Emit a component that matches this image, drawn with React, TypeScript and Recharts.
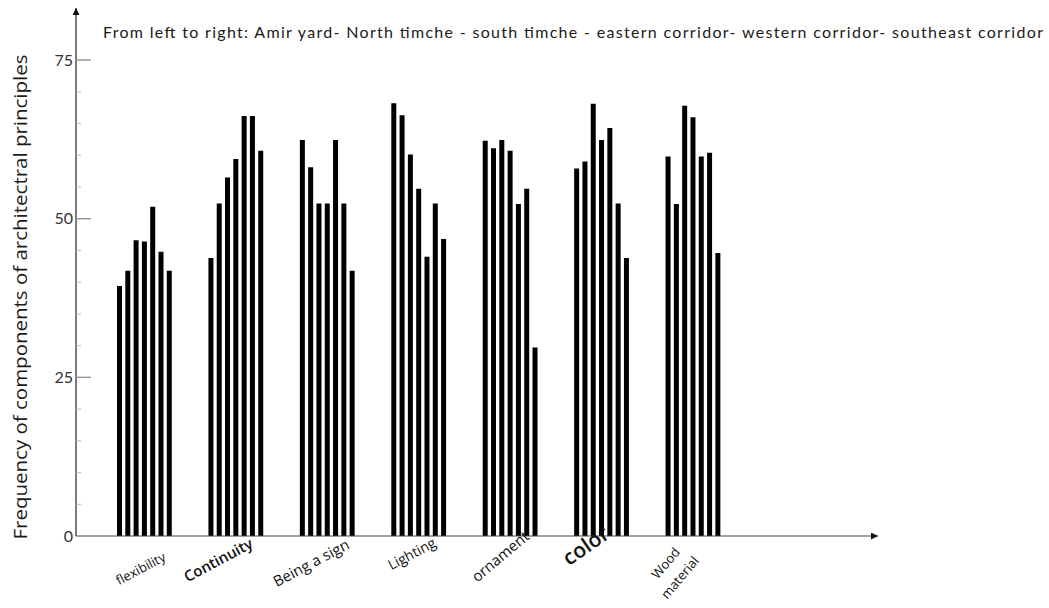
import React from 'react';
import { BarChart, Bar, XAxis, YAxis } from 'recharts';

const categories = ['flexibility', 'Continuity', 'Being a sign', 'Lighting', 'ornament', 'color', 'Wood material'];
const bar1 = [39.4, 43.8, 62.4, 68.2, 62.3, 57.9, 59.8];
const bar2 = [41.8, 52.4, 58.1, 66.3, 61.1, 59.0, 52.3];
const bar3 = [46.6, 56.5, 52.4, 60.1, 62.4, 68.1, 67.8];
const bar4 = [46.4, 59.4, 52.4, 54.7, 60.7, 62.4, 66.0];
const bar5 = [51.9, 66.2, 62.4, 44.0, 52.3, 64.3, 59.8];
const bar6 = [44.8, 66.2, 52.4, 52.4, 54.7, 52.4, 60.4];
const bar7 = [41.8, 60.7, 41.8, 46.8, 29.7, 43.8, 44.6];
const yTicks = [0, 5, 10, 15, 20, 25, 30, 35, 40, 45, 50, 55, 60, 65, 70, 75];
const yMajorLabels = [0, 25, 50, 75];
const titleText = 'From left to right: Amir yard- North timche - south timche -  eastern corridor- western corridor- southeast corridor';
const yLabelText = 'Frequency of components of architectral principles';

const seriesKeys = ['b1', 'b2', 'b3', 'b4', 'b5', 'b6', 'b7'];
const seriesValues = [bar1, bar2, bar3, bar4, bar5, bar6, bar7];

const data = categories.map((c, i) => {
  const row: Record<string, any> = { name: c };
  seriesKeys.forEach((k, j) => {
    row[k] = seriesValues[j][i];
  });
  return row;
});

const FONT = 'Lato, "Open Sans", sans-serif';
const LFONT = '"Open Sans", Lato, sans-serif';

const labelStyle: Record<string, { size: number; dx: number; dy: number; rot: number; weight: number }> = {
  flexibility: { size: 13, dx: 22, dy: 24, rot: -28, weight: 400 },
  Continuity: { size: 15, dx: 18, dy: 11, rot: -28, weight: 600 },
  'Being a sign': { size: 15, dx: 23, dy: 12, rot: -28, weight: 400 },
  Lighting: { size: 14, dx: 18, dy: 10, rot: -28, weight: 400 },
  ornament: { size: 15, dx: 20, dy: 2, rot: -40, weight: 400 },
  color: { size: 21, dx: 9, dy: 1, rot: -35, weight: 600 },
};

const XTick = (props: any) => {
  const { x, y, payload } = props;
  const name: string = payload.value;
  if (name === 'Wood material') {
    return (
      <g transform={`translate(${x - 24},${y + 30}) rotate(-50)`}>
        <text x={0} y={0} textAnchor="middle" fontFamily={LFONT} fontSize={13} fill="#111">Wood</text>
        <text x={-2} y={20} textAnchor="middle" fontFamily={LFONT} fontSize={13} fill="#111">material</text>
      </g>
    );
  }
  const st = labelStyle[name] || { size: 14, dx: 18, dy: 16, rot: -28, weight: 400 };
  return (
    <g transform={`translate(${x + st.dx},${y + st.dy}) rotate(${st.rot})`}>
      <text x={0} y={0} textAnchor="end" fontFamily={LFONT} fontSize={st.size} fontWeight={st.weight} fill="#111">
        {name}
      </text>
    </g>
  );
};

const YTick = (props: any) => {
  const { x, y, payload } = props;
  const v: number = payload.value;
  const axisX = x + 6;
  const major = yMajorLabels.includes(v);
  return (
    <g>
      {v !== 0 && (
        <line x1={axisX} x2={axisX + (major ? 15 : 5)} y1={y} y2={y} stroke={major ? '#999' : '#bbb'} strokeWidth={major ? 1.5 : 1} />
      )}
      {major && (
        <text x={x + 3} y={y} dy="0.35em" textAnchor="end" fontFamily={FONT} fontSize={16} fill="#333">
          {v}
        </text>
      )}
    </g>
  );
};

export default function App() {
  return (
    <div style={{ position: 'absolute', left: 0, top: 0, width: 1049, height: 608, background: '#fff' }}>
      <svg width={0} height={0} style={{ position: 'absolute' }}>
        <defs>
          <marker id="arrowHead" viewBox="0 0 10 10" refX="10" refY="5" markerWidth="8" markerHeight="7" markerUnits="userSpaceOnUse" orient="auto-start-reverse">
            <path d="M0,0 L10,5 L0,10 z" fill="#111" />
          </marker>
        </defs>
      </svg>
      <BarChart
        width={1049}
        height={608}
        data={data}
        margin={{ top: 8, right: 171, left: 30, bottom: 32 }}
        barSize={5}
        barGap={3.3}
      >
        <XAxis
          dataKey="name"
          height={40}
          padding={{ left: 23, right: 139 }}
          axisLine={{ stroke: '#444', strokeWidth: 1.2, markerEnd: 'url(#arrowHead)' }}
          tickLine={false}
          tickSize={0}
          tickMargin={0}
          interval={0}
          tick={<XTick />}
        />
        <YAxis
          type="number"
          domain={[0, 83.2]}
          ticks={yTicks}
          interval={0}
          width={46}
          axisLine={{ stroke: '#222', strokeWidth: 1.2, markerStart: 'url(#arrowHead)' }}
          tickLine={false}
          tickSize={0}
          tickMargin={6}
          tick={<YTick />}
        />
        {seriesKeys.map((k) => (
          <Bar key={k} dataKey={k} fill="#000" isAnimationActive={false} />
        ))}
      </BarChart>
      <svg width={1049} height={608} style={{ position: 'absolute', left: 0, top: 0, pointerEvents: 'none' }}>
        <text x={103} y={38} fontFamily={FONT} fontSize={16} fill="#1a1a1a" textLength={940} lengthAdjust="spacing">
          {titleText}
        </text>
        <text
          x={27}
          y={297}
          transform="rotate(-90 27 297)"
          textAnchor="middle"
          fontFamily={LFONT}
          fontSize={18}
          fill="#1a1a1a"
          textLength={485}
          lengthAdjust="spacingAndGlyphs"
        >
          {yLabelText}
        </text>
      </svg>
    </div>
  );
}
